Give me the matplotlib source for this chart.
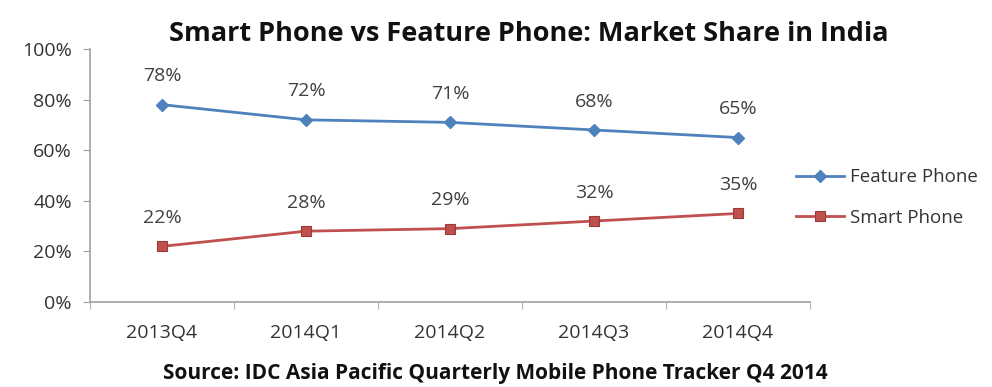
import matplotlib
matplotlib.use("Agg")
import matplotlib.pyplot as plt
from matplotlib.ticker import FixedLocator, PercentFormatter

categories = ["2013Q4", "2014Q1", "2014Q2", "2014Q3", "2014Q4"]
feature_phone = [78, 72, 71, 68, 65]
smart_phone = [22, 28, 29, 32, 35]
y_ticks = [0, 20, 40, 60, 80, 100]

plt.rcParams['font.family'] = ['Open Sans', 'DejaVu Sans']

fig = plt.figure(figsize=(9.92, 3.87), dpi=100)
ax = fig.add_axes([0.0907, 0.2196, 0.7258, 0.6538])

x = list(range(len(categories)))
blue = "#4F81BD"
red = "#C0504D"
ax.plot(x, feature_phone, color=blue, lw=2, marker="D", ms=6, label="Feature Phone")
ax.plot(x, smart_phone, color=red, lw=2, marker="s", ms=7, mec="#9E3B38", mew=0.8, label="Smart Phone")

for xi, v in zip(x, feature_phone):
    ax.annotate(f"{v}%", (xi, v), xytext=(0, 14), textcoords="offset points",
                ha="center", va="bottom", fontsize=14, color="#404040")
for xi, v in zip(x, smart_phone):
    ax.annotate(f"{v}%", (xi, v), xytext=(0, 14), textcoords="offset points",
                ha="center", va="bottom", fontsize=14, color="#404040")

ax.set_xlim(-0.5, len(categories) - 0.5)
ax.set_ylim(0, 100)
ax.yaxis.set_major_locator(FixedLocator(y_ticks))
ax.yaxis.set_major_formatter(PercentFormatter(decimals=0))
ax.set_xticks(x)
ax.set_xticklabels(categories)
ax.set_xticks([i - 0.5 for i in range(len(categories) + 1)], minor=True)
ax.tick_params(axis="x", which="major", length=0, pad=16, labelsize=14, labelcolor="#333333")
ax.tick_params(axis="x", which="minor", length=5, color="#A0A0A0", direction="out")
ax.tick_params(axis="y", length=5, color="#A0A0A0", labelsize=14, labelcolor="#333333", pad=8)

for s in ["top", "right"]:
    ax.spines[s].set_visible(False)
for s in ["left", "bottom"]:
    ax.spines[s].set_color("#A0A0A0")
    ax.spines[s].set_linewidth(1.2)

fig.text(0.533, 0.912, "Smart Phone vs Feature Phone: Market Share in India",
         ha="center", va="center", fontsize=19.5, fontweight="bold", color="#111111")
fig.text(0.499, 0.036, "Source: IDC Asia Pacific Quarterly Mobile Phone Tracker Q4 2014",
         ha="center", va="center", fontsize=15, fontweight="bold", color="#111111")

fig.legend(loc="center left", bbox_to_anchor=(0.785, 0.49), frameon=False,
           fontsize=13.5, labelspacing=1.2, handlelength=2.6, handletextpad=0.3,
           labelcolor="#333333")

fig.savefig("out.png", dpi=100, facecolor="white")
